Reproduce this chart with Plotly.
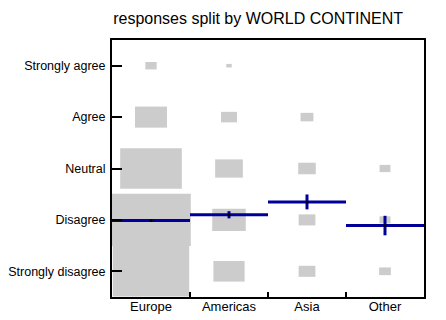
import plotly.graph_objects as go

# categories
continents = ['Europe', 'Americas', 'Asia', 'Other']
levels = ['Strongly disagree', 'Disagree', 'Neutral', 'Agree', 'Strongly agree']

# relative box size per cell (share of the cell), rows follow levels
size_europe = [0.98, 1.02, 0.79, 0.41, 0.145]
size_americas = [0.40, 0.43, 0.355, 0.205, 0.07]
size_asia = [0.215, 0.215, 0.225, 0.165, 0.0]
size_other = [0.15, 0.14, 0.14, 0.0, 0.0]

# mean response and its standard error per continent
means = [1.99, 2.10, 2.35, 1.89]
errors = [0.01, 0.07, 0.145, 0.19]

sizes = [size_europe, size_americas, size_asia, size_other]

fig = go.Figure()

# grey boxes, scaled to the cell
bx, by, bb, bw = [], [], [], []
for i, col in enumerate(sizes):
    for j, s in enumerate(col):
        if s <= 0:
            continue
        bx.append(i + 1)
        by.append(s)
        bb.append(j + 1 - s / 2)
        bw.append(s)
fig.add_trace(go.Bar(x=bx, y=by, base=bb, width=bw,
                     marker=dict(color='#cccccc', line=dict(width=0)),
                     showlegend=False, hoverinfo='skip'))

# mean lines over the full category width
for i, m in enumerate(means):
    fig.add_trace(go.Scatter(x=[i + 0.5, i + 1.5], y=[m, m], mode='lines',
                             line=dict(color='#000099', width=3),
                             showlegend=False))
    fig.add_trace(go.Scatter(x=[i + 1], y=[m], mode='markers',
                             marker=dict(color='black', size=3),
                             error_y=dict(type='data', array=[errors[i]],
                                          color='#000099', thickness=3, width=0),
                             showlegend=False))

# page body adds 8px, so the figure is a bit smaller than the window
fig.update_layout(
    width=438, height=312,
    margin=dict(l=104, r=22, t=32, b=23),
    plot_bgcolor='white', paper_bgcolor='white',
    font=dict(family='Liberation Sans, Arial', size=13, color='black'),
    title=dict(text='responses split by WORLD CONTINENT', x=0.571, xanchor='center',
               y=0.968, yanchor='middle', font=dict(size=16), automargin=False),
    barmode='overlay',
    xaxis=dict(range=[0.5, 4.5], tickvals=[1, 2, 3, 4], ticktext=continents,
               ticks='', showgrid=False, zeroline=False, automargin=False,
               tickfont=dict(size=13), ticklabelstandoff=-4,
               showline=True, linecolor='black', linewidth=2, mirror=True,
               minor=dict(tickvals=[1.5, 2.5, 3.5], ticks='inside', ticklen=5,
                          tickwidth=2, tickcolor='black', showgrid=False)),
    yaxis=dict(range=[0.5, 5.5], tickvals=[1, 2, 3, 4, 5], ticktext=levels,
               ticks='inside', ticklen=10, tickwidth=2, tickcolor='black',
               showgrid=False, zeroline=False, automargin=False,
               tickfont=dict(size=12.5), ticklabelstandoff=2,
               showline=True, linecolor='black', linewidth=2, mirror=True),
)

fig.write_html("out.html")
